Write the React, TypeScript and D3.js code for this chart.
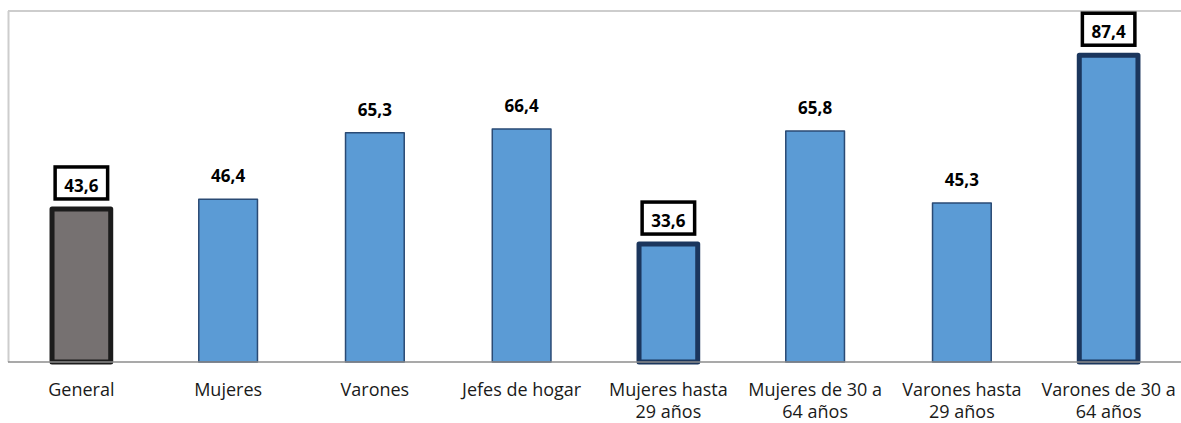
import React from "react";
import { scaleBand, scaleLinear } from "d3";

// Datos
const categories = [
  "General",
  "Mujeres",
  "Varones",
  "Jefes de hogar",
  "Mujeres hasta 29 años",
  "Mujeres de 30 a 64 años",
  "Varones hasta 29 años",
  "Varones de 30 a 64 años",
];
const categoryLines = [
  ["General"],
  ["Mujeres"],
  ["Varones"],
  ["Jefes de hogar"],
  ["Mujeres hasta", "29 años"],
  ["Mujeres de 30 a", "64 años"],
  ["Varones hasta", "29 años"],
  ["Varones de 30 a", "64 años"],
];
const values = [43.6, 46.4, 65.3, 66.4, 33.6, 65.8, 45.3, 87.4];
const highlighted = [true, false, false, false, true, false, false, true];
const yDomain = [0, 100];

export default function App() {
  const width = 1181;
  const height = 423;
  const plot = { left: 8, right: 1182, top: 11, bottom: 362 };

  const x = scaleBand<string>()
    .domain(categories)
    .range([plot.left, plot.right])
    .paddingInner(0.6)
    .paddingOuter(0.3);

  const y = scaleLinear().domain(yDomain).range([plot.bottom, plot.top]);

  const fmt = (v: number) => v.toFixed(1).replace(".", ",");

  return (
    <div style={{ position: "absolute", left: 0, top: 0 }}>
      <svg width={width} height={height} style={{ display: "block", fontFamily: "'Open Sans', sans-serif" }}>
        <rect width={width} height={height} fill="#fff" />
        {/* Marco */}
        <line x1={plot.left} x2={width} y1={plot.top} y2={plot.top} stroke="#cdcdcd" strokeWidth={2} />
        <line x1={plot.left + 0.5} x2={plot.left + 0.5} y1={plot.top} y2={plot.bottom} stroke="#cdcdcd" strokeWidth={2} />

        {/* Barras */}
        {categories.map((c, i) => {
          const v = values[i];
          const hi = highlighted[i];
          const bx = x(c)!;
          const bw = x.bandwidth();
          const top = y(v);
          const isGeneral = i === 0;
          const fill = isGeneral ? "#767171" : "#5b9bd5";
          const stroke = isGeneral ? "#1c1c1c" : hi ? "#1b365d" : "#2a4a74";
          const sw = hi ? 5 : 1.5;
          return (
            <rect
              key={c}
              x={bx}
              y={top}
              width={bw}
              height={plot.bottom - top}
              fill={fill}
              stroke={stroke}
              strokeWidth={sw}
              strokeLinejoin="round"
            />
          );
        })}

        {/* Eje X */}
        <line x1={plot.left} x2={width} y1={plot.bottom} y2={plot.bottom} stroke="#8c8c8c" strokeWidth={1.5} />

        {/* Etiquetas de valor */}
        {categories.map((c, i) => {
          const cx = x(c)! + x.bandwidth() / 2;
          const base = y(values[i]) - 17;
          return (
            <g key={`lbl-${c}`}>
              {highlighted[i] && (
                <rect
                  x={cx - 26.25}
                  y={base - 25}
                  width={52.5}
                  height={32}
                  fill="#fff"
                  stroke="#000"
                  strokeWidth={3.5}
                />
              )}
              <text x={cx} y={base} textAnchor="middle" fontSize={17} fontWeight="bold" fill="#000">
                {fmt(values[i])}
              </text>
            </g>
          );
        })}

        {/* Categorías */}
        {categories.map((c, i) => {
          const cx = x(c)! + x.bandwidth() / 2;
          return (
            <text key={`cat-${c}`} x={cx} y={396} textAnchor="middle" fontSize={18} fill="#1a1a1a">
              {categoryLines[i].map((l, j) => (
                <tspan key={j} x={cx} dy={j === 0 ? 0 : 22}>
                  {l}
                </tspan>
              ))}
            </text>
          );
        })}
      </svg>
    </div>
  );
}
